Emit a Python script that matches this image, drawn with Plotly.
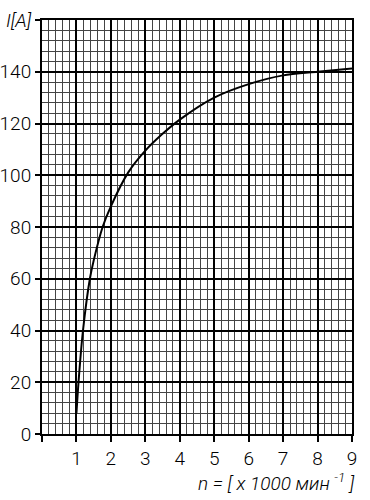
import plotly.graph_objects as go

# rotational speed n (x1000 min^-1) and current I [A]
n_vals = [1.0, 1.06, 1.19, 1.39, 1.5, 1.76, 2.0, 2.5, 3.0, 3.5, 4.0, 5.0, 6.0, 7.0, 8.0, 9.0]
i_vals = [8, 20, 40, 60, 67, 80, 88, 101, 109.5, 116, 121.5, 130, 135.2, 138.6, 140, 141.3]

x_tickvals = [0, 1, 2, 3, 4, 5, 6, 7, 8, 9]
x_ticktext = ["", "1", "2", "3", "4", "5", "6", "7", "8", "9"]
y_tickvals = [0, 20, 40, 60, 80, 100, 120, 140, 160]
y_ticktext = ["0", "20", "40", "60", "80", "100", "120", "140", "<i>I[A]</i>"]
x_title = "<i>n = [ x 1000 мин <sup>-1</sup> ]</i>"

FONT = "Roboto, sans-serif"

fig = go.Figure()
fig.add_trace(go.Scatter(
    x=n_vals, y=i_vals, mode="lines",
    line=dict(color="black", width=2, shape="spline", smoothing=0.8),
    hoverinfo="skip", showlegend=False,
))

fig.update_layout(
    width=370, height=500,
    margin=dict(l=42, r=18, t=20, b=66, autoexpand=False),
    paper_bgcolor="white", plot_bgcolor="white",
    font=dict(family=FONT, size=19, color="black", weight=300),
    xaxis=dict(
        range=[0, 9], tickvals=x_tickvals, ticktext=x_ticktext,
        showgrid=True, gridcolor="black", gridwidth=2,
        ticks="outside", ticklen=6, tickwidth=2, tickcolor="black",
        showline=True, linecolor="black", linewidth=2, mirror=True,
        zeroline=False, automargin=False,
        minor=dict(dtick=0.2, showgrid=True, gridcolor="#444444", gridwidth=1, ticks=""),
        tickfont=dict(family=FONT, size=19, weight=300),
    ),
    yaxis=dict(
        range=[0, 160], tickvals=y_tickvals, ticktext=y_ticktext,
        showgrid=True, gridcolor="black", gridwidth=2,
        ticks="outside", ticklen=5, tickwidth=2, tickcolor="black",
        showline=True, linecolor="black", linewidth=2, mirror=True,
        zeroline=False, automargin=False,
        minor=dict(dtick=4, showgrid=True, gridcolor="#444444", gridwidth=1, ticks=""),
        tickfont=dict(family=FONT, size=19, weight=300),
    ),
    annotations=[dict(
        text=x_title, xref="paper", yref="paper", x=1.015, y=-0.118,
        xanchor="right", yanchor="middle", showarrow=False,
        font=dict(family=FONT, size=19, color="black", weight=300),
    )],
)

# remove the default 8px page margin so the figure sits at the window's corner
fig.write_html("out.html", config={"displayModeBar": False},
               post_script="document.body.style.margin='0';")
